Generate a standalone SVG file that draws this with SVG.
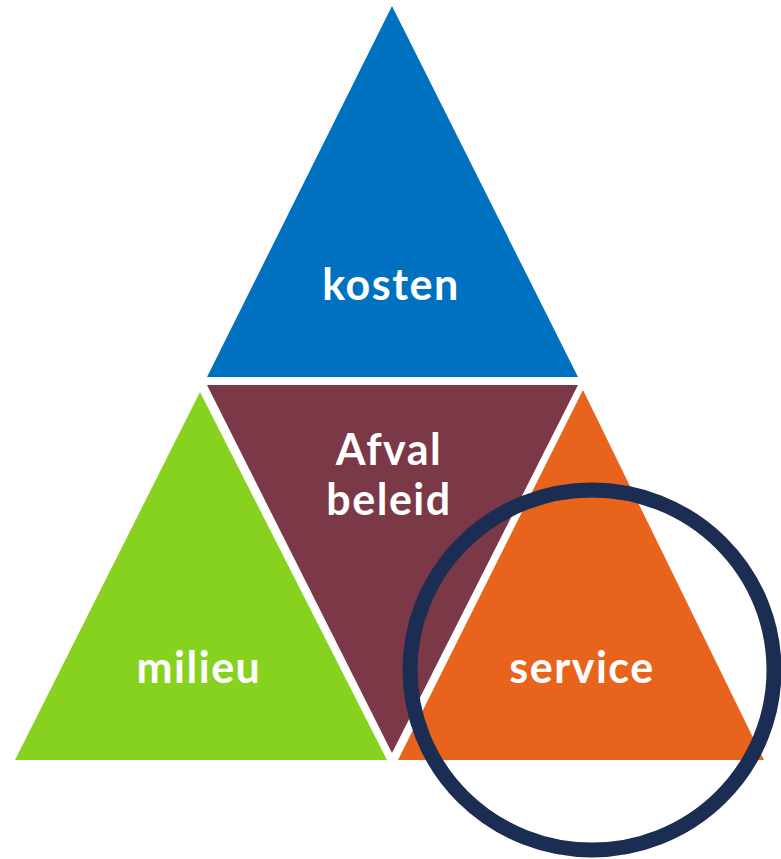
<svg xmlns="http://www.w3.org/2000/svg" width="781" height="859" viewBox="0 0 781 859">
<style>
.lbl{font-family:Lato,"Open Sans","Liberation Sans",sans-serif;font-weight:bold;font-size:43px;letter-spacing:1.5px;fill:#ffffff;text-anchor:middle}
</style>
<rect width="781" height="859" fill="#ffffff"/>
<g id="kosten">
<polygon points="392,6 207,377 578,377" fill="#0070C0"/>
<text class="lbl" x="391" y="300">kosten</text>
</g>
<g id="afval-beleid">
<polygon points="207,385 578,385 392,753" fill="#7B3847"/>
<text class="lbl" x="389" y="465">Afval</text>
<text class="lbl" x="389" y="515">beleid</text>
</g>
<g id="milieu">
<polygon points="200,392 15,760 387,760" fill="#86D21F"/>
<text class="lbl" x="199" y="683">milieu</text>
</g>
<g id="service">
<polygon points="583,390 398,760 764,760" fill="#E8631C"/>
<text class="lbl" x="582" y="683">service</text>
</g>
<g id="highlight">
<ellipse cx="592" cy="670" rx="182" ry="180" fill="none" stroke="#1B2D52" stroke-width="15"/>
</g>
<g id="connectors"/>
</svg>
